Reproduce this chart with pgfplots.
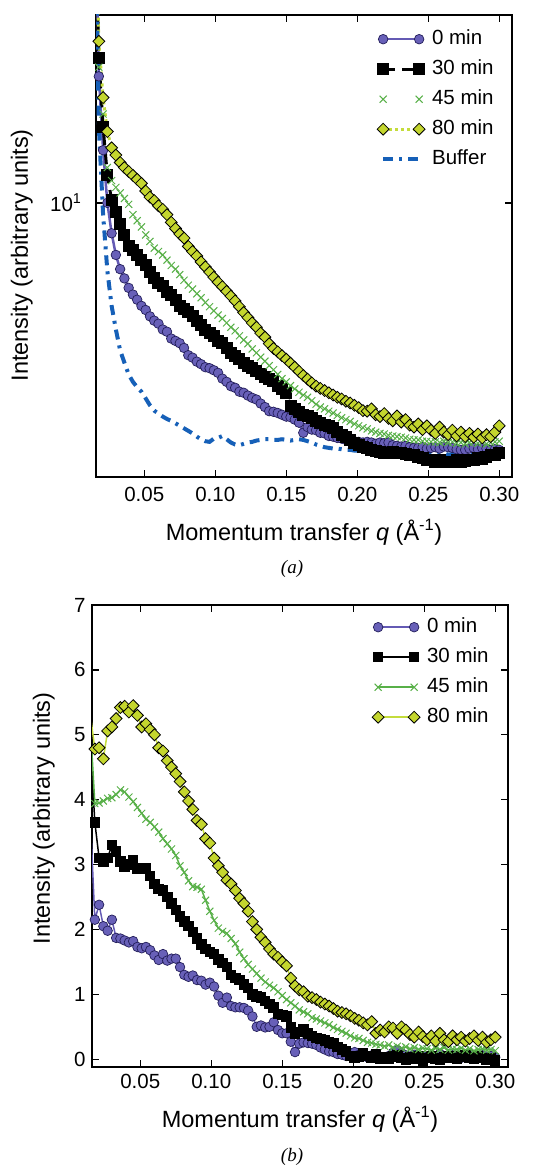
\documentclass[border=0pt]{standalone}
\usepackage{pgfplots}
\pgfplotsset{compat=1.18}
\usepackage{pgfplotstable}
\usepackage{fontspec}
\setmainfont{Liberation Sans}
\newfontfamily\capfont{Liberation Serif}

\definecolor{pfill}{RGB}{104,96,184}
\definecolor{pedge}{RGB}{35,30,90}
\definecolor{pline}{RGB}{100,90,180}
\definecolor{gx}{RGB}{88,176,72}
\definecolor{yfill}{RGB}{196,214,46}
\definecolor{yline}{RGB}{196,220,60}
\definecolor{bbuf}{RGB}{22,96,184}

\pgfplotstableread{
q m0 m30 m45 m80 buf
0.0155 28 28 30 30 28
0.018 15.5 16.5 16.0 17.5 13.0
0.021 12.0 13.0 13.6 14.4 9.6
0.024 10.0 11.0 11.3 12.8 7.9
0.027 9.0 10.1 10.8 12.1 7.0
0.030 8.35 9.7 10.55 11.8 6.45
0.033 7.95 9.3 10.35 11.5 6.0
0.036 7.7 8.95 10.15 11.3 5.75
0.039 7.45 8.6 9.95 11.15 5.52
0.042 7.28 8.5 9.6 11.0 5.38
0.045 7.15 8.35 9.4 10.85 5.28
0.048 7.0 8.2 9.2 10.7 5.2
0.051 6.9 8.05 8.95 10.42 5.08
0.054 6.75 7.88 8.75 10.2 4.96
0.057 6.65 7.72 8.55 10.08 4.87
0.060 6.58 7.58 8.45 9.9 4.82
0.063 6.45 7.5 8.35 9.78 4.77
0.066 6.4 7.35 8.2 9.6 4.73
0.069 6.25 7.28 8.05 9.35 4.70
0.072 6.2 7.15 7.95 9.15 4.66
0.075 6.15 7.0 7.8 8.98 4.62
0.078 6.05 6.92 7.65 8.85 4.58
0.081 5.9 6.85 7.52 8.6 4.54
0.084 5.85 6.75 7.42 8.45 4.50
0.087 5.77 6.65 7.3 8.32 4.45
0.090 5.72 6.55 7.2 8.15 4.41
0.093 5.66 6.43 7.08 8.01 4.38
0.096 5.64 6.38 6.98 7.87 4.37
0.099 5.60 6.30 6.88 7.73 4.42
0.102 5.55 6.2 6.78 7.6 4.43
0.105 5.44 6.16 6.7 7.48 4.46
0.108 5.38 6.05 6.6 7.36 4.41
0.111 5.3 5.95 6.5 7.24 4.36
0.114 5.27 5.88 6.42 7.12 4.33
0.117 5.2 5.82 6.31 6.98 4.32
0.120 5.18 5.75 6.22 6.84 4.34
0.123 5.13 5.68 6.14 6.72 4.36
0.126 5.09 5.64 6.03 6.6 4.37
0.129 5.06 5.58 5.95 6.5 4.39
0.132 4.99 5.53 5.86 6.37 4.40
0.135 4.93 5.48 5.78 6.28 4.41
0.138 4.86 5.44 5.69 6.14 4.41
0.141 4.85 5.40 5.61 6.04 4.40
0.144 4.83 5.30 5.52 5.97 4.40
0.147 4.80 5.24 5.44 5.89 4.41
0.150 4.77 5.18 5.38 5.82 4.40
0.153 4.76 4.95 5.31 5.74 4.39
0.156 4.72 4.90 5.25 5.66 4.40
0.159 4.67 4.84 5.19 5.58 4.41
0.162 4.51 4.80 5.14 5.50 4.40
0.165 4.60 4.78 5.10 5.43 4.38
0.168 4.56 4.75 5.04 5.36 4.36
0.171 4.55 4.70 4.98 5.30 4.33
0.174 4.51 4.66 4.93 5.26 4.31
0.177 4.50 4.63 4.90 5.22 4.29
0.180 4.46 4.61 4.86 5.18 4.28
0.183 4.45 4.58 4.83 5.14 4.27
0.186 4.43 4.52 4.79 5.10 4.27
0.189 4.42 4.48 4.75 5.07 4.26
0.192 4.40 4.44 4.72 5.03 4.25
0.195 4.39 4.40 4.69 5.00 4.25
0.198 4.38 4.36 4.65 4.96 4.24
0.201 4.37 4.33 4.62 4.92 4.24
0.204 4.36 4.30 4.59 4.87 4.23
0.207 4.37 4.28 4.57 4.86 4.24
0.210 4.36 4.25 4.54 4.90 4.22
0.213 4.34 4.24 4.52 4.80 4.23
0.216 4.36 4.22 4.50 4.77 4.22
0.219 4.35 4.21 4.49 4.82 4.21
0.222 4.36 4.20 4.47 4.74 4.22
0.225 4.32 4.22 4.46 4.70 4.21
0.228 4.31 4.20 4.45 4.78 4.21
0.231 4.30 4.21 4.44 4.68 4.20
0.234 4.31 4.19 4.43 4.72 4.21
0.237 4.29 4.18 4.41 4.63 4.20
0.240 4.28 4.18 4.40 4.60 4.21
0.243 4.28 4.15 4.40 4.65 4.20
0.246 4.29 4.13 4.38 4.56 4.19
0.249 4.27 4.11 4.38 4.62 4.20
0.252 4.28 4.10 4.37 4.55 4.21
0.255 4.29 4.08 4.37 4.50 4.20
0.258 4.27 4.10 4.36 4.60 4.19
0.261 4.30 4.07 4.38 4.52 4.20
0.264 4.29 4.08 4.36 4.48 4.18
0.267 4.28 4.08 4.37 4.55 4.19
0.270 4.26 4.10 4.35 4.46 4.20
0.273 4.25 4.07 4.36 4.52 4.19
0.276 4.25 4.09 4.34 4.45 4.18
0.279 4.27 4.11 4.36 4.50 4.19
0.282 4.28 4.10 4.37 4.44 4.20
0.285 4.26 4.13 4.35 4.49 4.19
0.288 4.28 4.12 4.36 4.43 4.18
0.291 4.27 4.15 4.34 4.48 4.19
0.294 4.25 4.17 4.36 4.45 4.18
0.297 4.26 4.18 4.37 4.52 4.19
0.300 4.25 4.20 4.38 4.62 4.18
}\tabA

\pgfplotstableread{
q m0 m30 m45 m80
0.0155 3.4 4.6 4.9 5.2
0.018 2.15 3.65 3.94 4.78
0.021 2.38 3.10 3.95 4.80
0.024 2.05 3.04 3.98 4.63
0.027 1.98 3.10 4.02 5.06
0.030 2.15 3.30 4.03 5.12
0.033 1.87 3.20 4.08 5.25
0.036 1.86 3.05 4.15 5.42
0.039 1.83 2.97 4.12 5.44
0.042 1.80 3.00 4.04 5.35
0.045 1.82 3.06 3.97 5.45
0.048 1.73 2.94 3.88 5.30
0.051 1.71 2.93 3.79 5.12
0.054 1.73 2.95 3.70 5.17
0.057 1.68 2.82 3.65 5.08
0.060 1.60 2.70 3.58 5.00
0.063 1.53 2.62 3.50 4.80
0.066 1.62 2.60 3.40 4.75
0.069 1.52 2.50 3.32 4.60
0.072 1.55 2.40 3.24 4.50
0.075 1.55 2.30 3.14 4.40
0.078 1.42 2.20 2.98 4.28
0.081 1.30 2.12 2.88 4.12
0.084 1.27 2.05 2.75 3.98
0.087 1.29 1.96 2.66 3.85
0.090 1.22 1.86 2.65 3.68
0.093 1.21 1.77 2.62 3.62
0.096 1.15 1.70 2.45 3.40
0.099 1.18 1.65 2.28 3.33
0.102 1.12 1.62 2.14 3.10
0.105 0.98 1.54 2.02 2.98
0.108 0.87 1.48 1.97 2.88
0.111 0.95 1.42 1.94 2.76
0.114 0.82 1.30 1.86 2.70
0.117 0.80 1.25 1.78 2.60
0.120 0.80 1.22 1.65 2.48
0.123 0.79 1.15 1.55 2.40
0.126 0.75 1.10 1.46 2.28
0.129 0.66 1.00 1.39 2.12
0.132 0.50 0.97 1.32 2.00
0.135 0.52 0.95 1.25 1.88
0.138 0.49 0.90 1.19 1.80
0.141 0.50 0.85 1.14 1.70
0.144 0.57 0.80 1.10 1.62
0.147 0.45 0.70 1.04 1.57
0.150 0.40 0.68 0.98 1.50
0.153 0.40 0.66 0.92 1.44
0.156 0.27 0.49 0.87 1.25
0.159 0.11 0.40 0.82 1.13
0.162 0.24 0.42 0.76 1.07
0.165 0.26 0.46 0.73 1.04
0.168 0.25 0.40 0.70 0.97
0.171 0.24 0.36 0.64 0.95
0.174 0.22 0.33 0.62 0.92
0.177 0.18 0.31 0.59 0.88
0.180 0.15 0.29 0.56 0.85
0.183 0.12 0.26 0.53 0.82
0.186 0.11 0.24 0.49 0.78
0.189 0.08 0.19 0.46 0.74
0.192 0.07 0.15 0.43 0.72
0.195 0.05 0.12 0.40 0.70
0.198 0.08 0.05 0.36 0.67
0.201 0.11 0.02 0.33 0.63
0.204 0.07 0.04 0.32 0.60
0.207 0.05 0.09 0.29 0.56
0.210 0.03 0.05 0.26 0.53
0.213 0.06 0.03 0.25 0.58
0.216 0.08 0.08 0.23 0.40
0.219 0.04 0.01 0.22 0.45
0.222 0.02 0.03 0.20 0.42
0.225 0.05 0.00 0.22 0.50
0.228 0.10 0.04 0.18 0.48
0.231 0.14 0.06 0.20 0.40
0.234 0.09 0.02 0.17 0.50
0.237 0.06 -0.01 0.19 0.45
0.240 0.04 0.03 0.16 0.38
0.243 0.07 0.00 0.18 0.34
0.246 0.03 0.05 0.15 0.42
0.249 0.05 -0.02 0.17 0.35
0.252 0.02 0.02 0.16 0.30
0.255 0.06 0.04 0.14 0.36
0.258 0.04 0.01 0.17 0.28
0.261 0.08 -0.01 0.15 0.40
0.264 0.05 0.03 0.18 0.30
0.267 0.03 0.05 0.14 0.27
0.270 0.06 0.02 0.16 0.36
0.273 0.04 0.00 0.15 0.30
0.276 0.02 0.04 0.17 0.34
0.279 0.05 0.06 0.14 0.28
0.282 0.07 0.03 0.16 0.32
0.285 0.04 0.01 0.13 0.36
0.288 0.03 0.04 0.15 0.29
0.291 0.06 0.02 0.16 0.34
0.294 0.04 -0.01 0.14 0.26
0.297 0.05 0.01 0.15 0.30
0.300 0.03 -0.02 0.13 0.34
}\tabB

\pgfplotsset{
  twoends/.style={legend image code/.code={\draw[mark repeat=2,mark phase=1,##1] plot coordinates {(0pt,0pt) (18pt,0pt) (36pt,0pt)};}},
  twox/.style={legend image code/.code={\draw[##1, only marks] plot coordinates {(0pt,0pt) (36pt,0pt)};}},
  panel/.style={
    scale only axis, width=416pt, height=462pt,
    xmin=0.016, xmax=0.309,
    xtick={0.05,0.10,0.15,0.20,0.25,0.30},
    /pgf/number format/assume math mode=true,
    xticklabel style={/pgf/number format/fixed, /pgf/number format/fixed zerofill, /pgf/number format/precision=2},
    tick label style={font=\fontsize{20.5}{24}\selectfont},
    label style={font=\fontsize{23.5}{28}\selectfont},
    axis line style={line width=1.5pt},
    every tick/.style={black, line width=1.3pt},
    major tick length=7pt, minor tick length=5pt,
    tick align=inside,
    legend cell align=left,
    legend style={draw=none, fill=none, inner sep=0pt,
      font=\fontsize{20.5}{24}\selectfont,
      nodes={inner sep=0pt, text height=15pt, text depth=5pt},
      row sep=10pt, column sep=7pt},
    twoends,
    xlabel={Momentum transfer \textit{q} (Å\textsuperscript{-1})},
    ylabel={Intensity (arbitrary units)},
    xlabel style={at={(axis description cs:0.5,0)}, anchor=base},
    ylabel style={inner sep=0pt, anchor=south},
  }
}

\begin{document}
\begin{tikzpicture}
\path[use as bounding box] (0pt,0pt) rectangle (542pt,-1166pt);

% ---------- panel (a) ----------
\begin{axis}[panel,
  at={(96pt,-477pt)}, anchor=south west,
  ymode=log, ymin=3.87, ymax=19.17,
  ytick={10}, yticklabels={10\textsuperscript{1}},
  yticklabel style={xshift=-11pt},
  xticklabel style={yshift=-7pt},
  xlabel style={yshift=-63pt},
  ylabel style={at={(axis description cs:0,0.48)}, yshift=63pt},
  legend style={at={(axis description cs:0,1)}, anchor=north west, xshift=281pt, yshift=-14pt},
]
\addplot[pline, line width=2.5pt, mark=*, mark size=4.8pt,
  mark options={solid, fill=pfill, draw=pedge, line width=0.7pt}]
  table[x=q, y=m0] {\tabA};
\addlegendentry{0 min}
\addplot[black, line width=3pt, dash pattern=on 12pt off 7pt, mark=square*, mark size=4.5pt,
  mark options={solid, fill=black, draw=black}]
  table[x=q, y=m30] {\tabA};
\addlegendentry{30 min}
\addplot[gx, only marks, mark=x, mark size=5pt, mark options={line width=1pt}, twox]
  table[x=q, y=m45] {\tabA};
\addlegendentry{45 min}
\addplot[yline, line width=3pt, dash pattern=on 3pt off 3pt, mark=square*, mark size=4.2pt,
  mark options={solid, rotate=45, fill=yfill, draw=black, line width=0.8pt}]
  table[x=q, y=m80] {\tabA};
\addlegendentry{80 min}
\addplot[bbuf, line width=4pt, dash pattern=on 10pt off 6pt on 3pt off 6pt, no marks]
  table[x=q, y=buf] {\tabA};
\addlegendentry{Buffer}
\end{axis}

\node[font=\capfont\itshape\fontsize{19}{22}\selectfont, anchor=base] at (292pt,-573pt) {(a)};

% ---------- panel (b) ----------
\begin{axis}[panel,
  at={(92pt,-1067pt)}, anchor=south west,
  ymin=-0.12, ymax=7,
  ytick={0,1,2,3,4,5,6,7},
  yticklabel style={xshift=-3pt},
  xticklabel style={yshift=-4pt},
  xlabel style={yshift=-60pt},
  ylabel style={at={(axis description cs:0,0.538)}, yshift=37pt},
  legend style={at={(axis description cs:0,1)}, anchor=north west, xshift=280pt, yshift=-12pt},
]
\addplot[pline, line width=1.5pt, mark=*, mark size=4.8pt,
  mark options={fill=pfill, draw=pedge, line width=0.7pt}]
  table[x=q, y=m0] {\tabB};
\addlegendentry{0 min}
\addplot[black, line width=1.5pt, mark=square*, mark size=4.5pt,
  mark options={fill=black, draw=black}]
  table[x=q, y=m30] {\tabB};
\addlegendentry{30 min}
\addplot[gx, line width=1.5pt, mark=x, mark size=5pt, mark options={line width=1pt}]
  table[x=q, y=m45] {\tabB};
\addlegendentry{45 min}
\addplot[yline, line width=1.5pt, mark=square*, mark size=4.2pt,
  mark options={rotate=45, fill=yfill, draw=black, line width=0.8pt}]
  table[x=q, y=m80] {\tabB};
\addlegendentry{80 min}
\end{axis}

\node[font=\capfont\itshape\fontsize{19}{22}\selectfont, anchor=base] at (292pt,-1161pt) {(b)};
\end{tikzpicture}
\end{document}
